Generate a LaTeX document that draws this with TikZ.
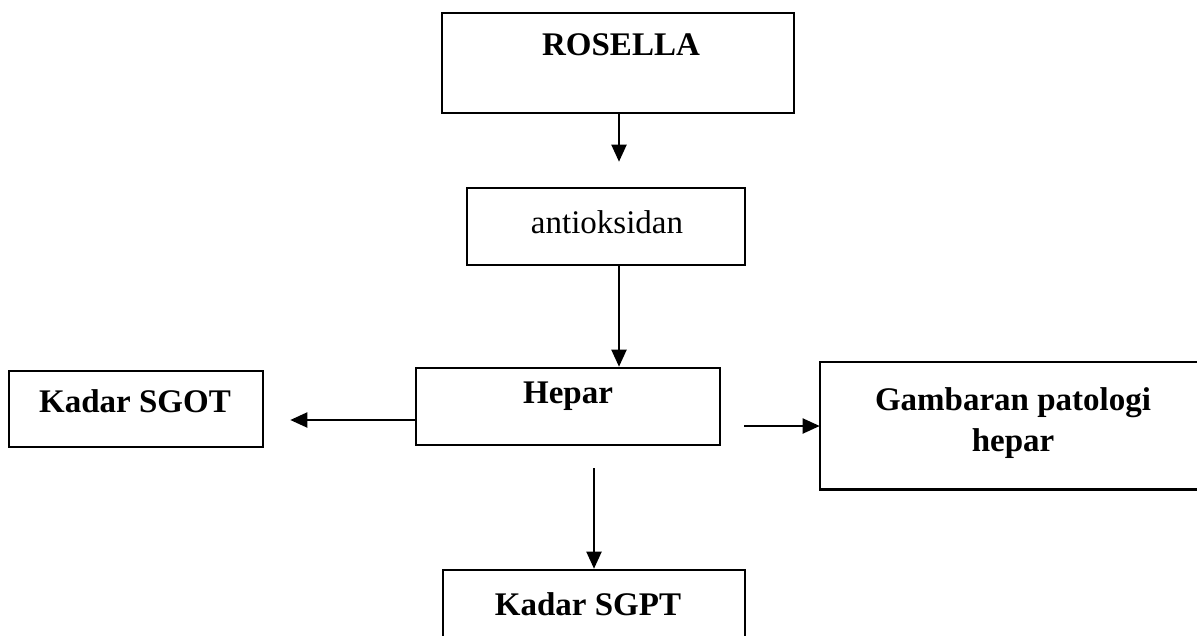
\documentclass[tikz,border=0pt]{standalone}
\usepackage{fontspec}
\setmainfont{Liberation Serif}
\usetikzlibrary{arrows.meta}
\begin{document}
\begin{tikzpicture}[x=1pt,y=-1pt,
  boxnode/.style={draw=black, line width=2.6pt, inner sep=0pt, fill=none},
  lbl/.style={anchor=base, inner sep=0pt, font=\fontsize{33}{40}\selectfont},
  blbl/.style={lbl, font=\fontsize{33}{40}\selectfont\bfseries},
  arr/.style={draw=black, line width=2pt, -{Triangle[length=17pt,width=15pt]}}]
\useasboundingbox (0,0) rectangle (1197,635);
% boxes
\node[boxnode, minimum width=352pt, minimum height=100pt] (rosella) at (618,63) {};
\node[boxnode, minimum width=278pt, minimum height=77pt] (antiox) at (606,226.5) {};
\node[boxnode, minimum width=304pt, minimum height=77pt] (hepar) at (568,406.5) {};
\node[boxnode, minimum width=254pt, minimum height=76pt] (sgot) at (136,409) {};
\node[boxnode, draw=none, minimum width=420pt, minimum height=125pt] (gamb) at (1031,425.5) {};
\draw[line width=2.4pt] ([xshift=30pt]gamb.north east) -- (gamb.north west) -- (gamb.south west) -- ([xshift=30pt]gamb.south east);
\node[boxnode, minimum width=302pt, minimum height=80pt] (sgpt) at (594,610) {};
% texts
\node[blbl] (t1) at (621,55) {ROSELLA};
\node[lbl] (t2) at (607,233) {antioksidan};
\node[blbl] (t3) at (568,403) {Hepar};
\node[blbl] (t4) at (135,412) {Kadar SGOT};
\node[blbl] (t5) at (1013,410) {Gambaran patologi};
\node[blbl] (t6) at (1013,451) {hepar};
\node[blbl] (t7) at (588,615) {Kadar SGPT};
% connectors
\draw[arr, shorten >=25pt] ([xshift=1pt]rosella.south) -- ([xshift=1pt]rosella.south |- antiox.north);
\draw[arr] ([xshift=1pt]rosella.south |- antiox.south) -- ([xshift=1pt]rosella.south |- hepar.north);
\draw[arr, shorten >=26pt] ([yshift=-13.5pt]hepar.west) -- ([yshift=-11pt]sgot.east);
\draw[arr, shorten <=23pt] ([yshift=-19.5pt]hepar.east) -- ([yshift=-0.5pt]gamb.west);
\draw[arr, shorten <=22pt] ([xshift=26pt]hepar.south) -- ([xshift=26pt]hepar.south |- sgpt.north);
\end{tikzpicture}
\end{document}
